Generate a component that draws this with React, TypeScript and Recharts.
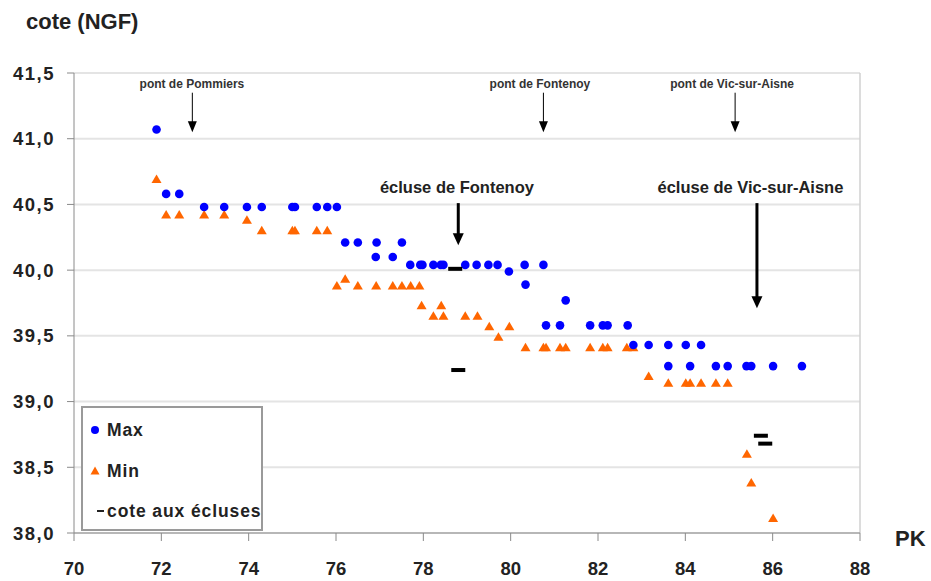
import {
  ScatterChart,
  Scatter,
  XAxis,
  YAxis,
  CartesianGrid,
  ReferenceLine,
  ReferenceDot,
  Legend,
} from "recharts";

const FONT = '"Liberation Sans", Arial, sans-serif';

// PK / cote (NGF)
const maxPk = [
  71.89, 72.11, 72.41, 72.98, 73.44, 73.96, 74.3, 75.0, 75.06, 75.56, 75.8, 76.02,
  76.21, 76.5, 76.93, 77.51, 76.91, 77.3, 77.7, 77.93, 77.98, 78.23, 78.4, 78.46,
  78.96, 79.22, 79.49, 79.7, 79.96, 80.32, 80.75, 80.34, 81.26, 80.81, 81.13, 81.82,
  82.11, 82.22, 82.68, 82.81, 83.16, 83.61, 84.01, 84.36, 83.61, 84.11, 84.7, 84.97,
  85.4, 85.51, 86.01, 86.67,
];
const maxCote = [
  41.07, 40.58, 40.58, 40.48, 40.48, 40.48, 40.48, 40.48, 40.48, 40.48, 40.48, 40.48,
  40.21, 40.21, 40.21, 40.21, 40.1, 40.1, 40.04, 40.04, 40.04, 40.04, 40.04, 40.04,
  40.04, 40.04, 40.04, 40.04, 39.99, 40.04, 40.04, 39.89, 39.77, 39.58, 39.58, 39.58,
  39.58, 39.58, 39.58, 39.43, 39.43, 39.43, 39.43, 39.43, 39.27, 39.27, 39.27, 39.27,
  39.27, 39.27, 39.27, 39.27,
];
const minPk = [
  71.89, 72.11, 72.41, 72.98, 73.44, 73.96, 74.3, 75.0, 75.06, 75.56, 75.8, 76.02,
  76.21, 76.5, 76.92, 77.3, 77.51, 77.71, 77.91, 77.96, 78.41, 78.23, 78.46, 78.96,
  79.24, 79.51, 79.97, 79.72, 80.34, 80.75, 80.81, 81.13, 81.26, 81.82, 82.11, 82.22,
  82.66, 82.81, 83.16, 83.61, 84.01, 84.11, 84.36, 84.7, 84.97, 85.41, 85.51, 86.01,
];
const minCote = [
  40.69, 40.42, 40.42, 40.42, 40.42, 40.38, 40.3, 40.3, 40.3, 40.3, 40.3, 39.88,
  39.93, 39.88, 39.88, 39.88, 39.88, 39.88, 39.88, 39.73, 39.73, 39.65, 39.65, 39.65,
  39.65, 39.57, 39.57, 39.49, 39.41, 39.41, 39.41, 39.41, 39.41, 39.41, 39.41, 39.41,
  39.41, 39.41, 39.19, 39.14, 39.14, 39.14, 39.14, 39.14, 39.14, 38.6, 38.38, 38.11,
];
const lockPk = [78.73, 78.8, 85.73, 85.83];
const lockCote = [40.01, 39.24, 38.74, 38.68];

const xTicks = [70, 72, 74, 76, 78, 80, 82, 84, 86, 88];
const yTicks = [38, 38.5, 39, 39.5, 40, 40.5, 41, 41.5];

// annotations
const bridgeNames = ["pont de Pommiers", "pont de Fontenoy", "pont de Vic-sur-Aisne"];
const bridgeTextPk = [72.7, 80.67, 85.07];
const bridgeArrowPk = [72.71, 80.75, 85.14];
const bridgeTextY = 41.42;
const bridgeArrowFrom = 41.35;
const bridgeArrowTo = 41.05;

const lockNames = ["écluse de Fontenoy", "écluse de Vic-sur-Aisne"];
const lockTextPk = [78.77, 85.49];
const lockArrowPk = [78.8, 85.64];
const lockArrowTo = [40.19, 39.71];
const lockTextY = 40.63;
const lockArrowFrom = 40.51;

const seriesNames = ["Max", "Min", "cote aux écluses"];

const maxData = maxPk.map((x, i) => ({ x, y: maxCote[i] }));
const minData = minPk.map((x, i) => ({ x, y: minCote[i] }));
const lockData = lockPk.map((x, i) => ({ x, y: lockCote[i] }));

const BLUE = "#0000ff";
const ORANGE = "#ff6600";

const DotShape = (p: any) => <circle cx={p.cx} cy={p.cy} r={4.3} fill={BLUE} />;
const TriShape = (p: any) => (
  <polygon
    points={`${p.cx - 5},${p.cy + 3.5} ${p.cx + 5},${p.cy + 3.5} ${p.cx},${p.cy - 5}`}
    fill={ORANGE}
  />
);
const DashShape = (p: any) => <rect x={p.cx - 7} y={p.cy - 2} width={14} height={4} fill="#000" />;

const arrow = (w: number, headW: number, headL: number) => (p: any) => {
  const top = Math.min(p.y1, p.y2);
  const tip = Math.max(p.y1, p.y2);
  const x = p.x1;
  return (
    <g>
      <line x1={x} y1={top} x2={x} y2={tip - headL + 1} stroke="#000" strokeWidth={w} />
      <polygon points={`${x - headW / 2},${tip - headL} ${x + headW / 2},${tip - headL} ${x},${tip}`} fill="#000" />
    </g>
  );
};

const label = (text: string, size: number, color: string) => (p: any) => (
  <text
    x={p.cx}
    y={p.cy}
    textAnchor="middle"
    dominantBaseline="central"
    fontFamily={FONT}
    fontWeight="bold"
    fontSize={size}
    fill={color}
  >
    {text}
  </text>
);

const LegendBox = () => (
  <div
    style={{
      width: 182,
      height: 125,
      boxSizing: "border-box",
      border: "2px solid #9a9a9a",
      background: "#fff",
      position: "relative",
      fontFamily: FONT,
      fontWeight: "bold",
      fontSize: 17.5,
      color: "#222",
    }}
  >
    {seriesNames.map((name, i) => (
      <div
        key={name}
        style={{
          position: "absolute",
          left: 4,
          top: [22, 63, 103][i] - 12,
          height: 24,
          display: "flex",
          alignItems: "center",
          whiteSpace: "nowrap",
        }}
      >
        <svg width={18} height={24}>
          {i === 0 && <circle cx={8} cy={12} r={4} fill={BLUE} />}
          {i === 1 && <polygon points="3.5,15.5 12.5,15.5 8,7.5" fill={ORANGE} />}
          {i === 2 && <rect x={10} y={11} width={7} height={2} fill="#222" />}
        </svg>
        <span style={{ marginLeft: 2, letterSpacing: 0.9 }}>{name}</span>
      </div>
    ))}
  </div>
);

const tickStyle = { fill: "#222", fontSize: 18.5, fontWeight: "bold", fontFamily: FONT };

export default function App() {
  return (
    <div style={{ position: "absolute", left: 0, top: 0, width: 931, height: 581, background: "#fff" }}>
      <div
        style={{
          position: "absolute",
          left: 26,
          top: 8,
          fontFamily: FONT,
          fontWeight: "bold",
          fontSize: 22,
          color: "#222",
          lineHeight: "28px",
        }}
      >
        cote (NGF)
      </div>
      <div
        style={{
          position: "absolute",
          left: 895,
          top: 525,
          fontFamily: FONT,
          fontWeight: "bold",
          fontSize: 22,
          color: "#222",
          lineHeight: "28px",
        }}
      >
        PK
      </div>
      <ScatterChart width={931} height={581} margin={{ top: 73, right: 71, bottom: 8, left: 14 }}>
        <CartesianGrid horizontal vertical={false} stroke="#e4e4e4" strokeWidth={2} />
        <XAxis
          type="number"
          dataKey="x"
          domain={[70, 88]}
          ticks={xTicks}
          height={40}
          tickSize={8}
          tickMargin={21}
          stroke="#8a8a8a"
          tick={tickStyle}
        />
        <YAxis
          type="number"
          dataKey="y"
          domain={[38, 41.5]}
          ticks={yTicks}
          width={60}
          tickSize={7}
          tickMargin={12}
          stroke="#8a8a8a"
          tick={{ ...tickStyle, letterSpacing: 1.5 }}
          tickFormatter={(v: number) => v.toFixed(1).replace(".", ",")}
        />
        <ReferenceLine x={88} stroke="#d0d0d0" strokeWidth={1.5} />
        <Legend
          layout="vertical"
          align="center"
          verticalAlign="middle"
          wrapperStyle={{ left: 81, top: 406, width: 182, height: 125 }}
          content={() => <LegendBox />}
        />
        {bridgeNames.map((n, i) => (
          <ReferenceDot key={n} x={bridgeTextPk[i]} y={bridgeTextY} r={0} shape={label(n, 12, "#333")} />
        ))}
        {bridgeNames.map((n, i) => (
          <ReferenceLine
            key={n + "a"}
            segment={[
              { x: bridgeArrowPk[i], y: bridgeArrowFrom },
              { x: bridgeArrowPk[i], y: bridgeArrowTo },
            ]}
            shape={arrow(1, 9, 11)}
          />
        ))}
        {lockNames.map((n, i) => (
          <ReferenceDot key={n} x={lockTextPk[i]} y={lockTextY} r={0} shape={label(n, 16.5, "#222")} />
        ))}
        {lockNames.map((n, i) => (
          <ReferenceLine
            key={n + "a"}
            segment={[
              { x: lockArrowPk[i], y: lockArrowFrom },
              { x: lockArrowPk[i], y: lockArrowTo[i] },
            ]}
            shape={arrow(3, 11, 12)}
          />
        ))}
        <Scatter name="Min" data={minData} shape={TriShape} isAnimationActive={false} />
        <Scatter name="Max" data={maxData} shape={DotShape} isAnimationActive={false} />
        <Scatter name="cote aux écluses" data={lockData} shape={DashShape} isAnimationActive={false} />
      </ScatterChart>
    </div>
  );
}
